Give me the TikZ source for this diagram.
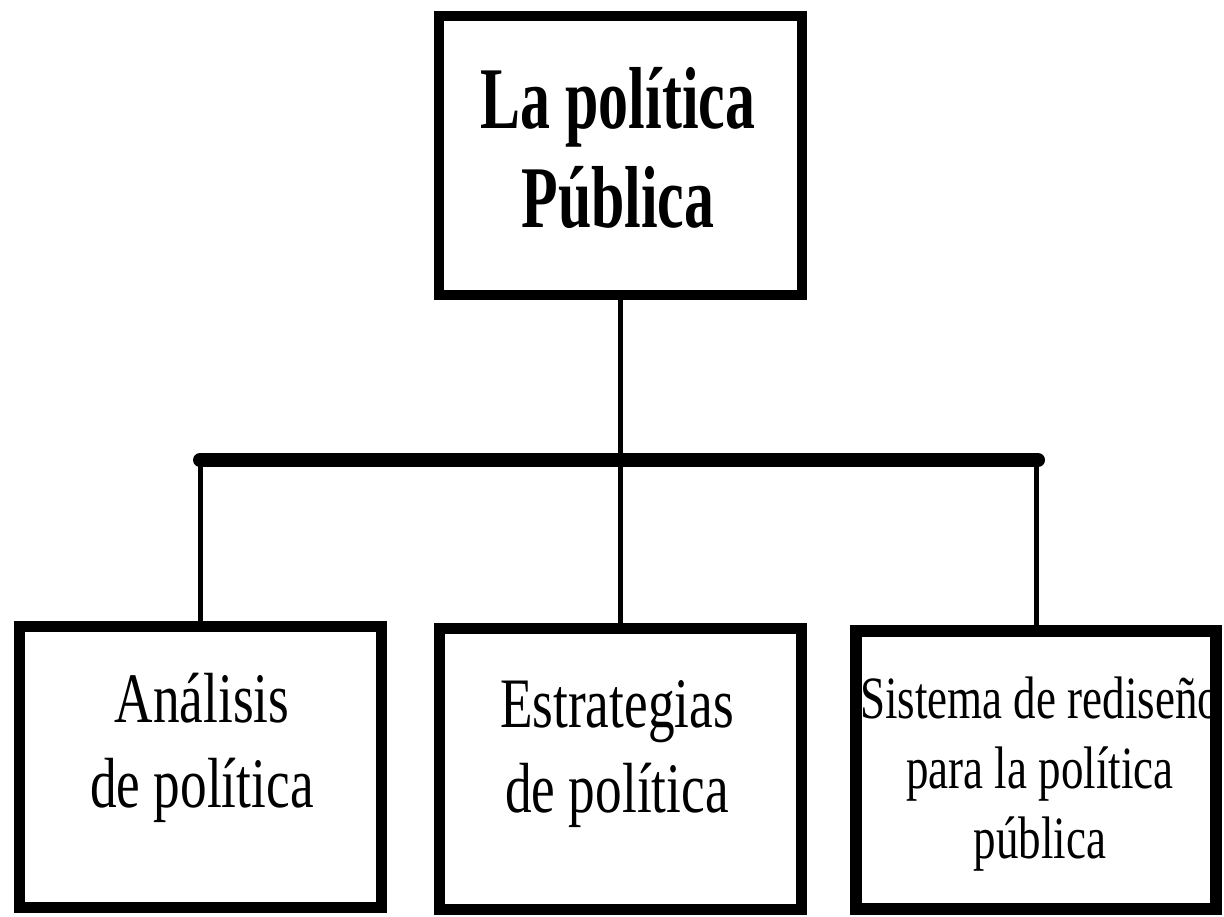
\documentclass[tikz,border=0pt]{standalone}
\usepackage{fontspec}
\newfontfamily\fuente[FakeStretch=0.75]{Liberation Serif}
\newfontfamily\titulo[FakeStretch=0.68]{Liberation Serif}
\tikzset{
  caja/.style={rectangle, draw, line width=11pt, minimum width=362pt, minimum height=281pt, inner sep=0pt},
  texto/.style={align=center, inner sep=0pt, anchor=base},
  linea/.style={line width=5pt},
  barra/.style={line width=14pt, line cap=round}
}
\begin{document}
\begin{tikzpicture}[x=1pt, y=-1pt]
\useasboundingbox (0,0) rectangle (1224,916);

    % cajas
    \node (pp) at (620,155) [caja, line width=10pt, minimum width=363pt, minimum height=279pt] {};
    \node (ana) at (200,767) [caja] {};
    \node (est) at (620,769) [caja] {};
    \node (sis) at (1036,770) [caja, line width=12pt, minimum width=360pt, minimum height=278pt] {};

    % textos
    \node (tpp) at (618,227) [texto, font=\titulo\bfseries\fontsize{88}{99}\selectfont] {La política\\Pública};
    \node (tana) at (202,807) [texto, font=\fuente\fontsize{71}{85}\selectfont] {Análisis\\de política};
    \node (test) at (617,812) [texto, font=\fuente\fontsize{71}{85}\selectfont] {Estrategias\\de política};
    \node (tsis) at (1040,858) [texto, font=\fuente\fontsize{60}{70}\selectfont] {Sistema de rediseño\\para la política\\pública};

    % conectores
    \coordinate (bi) at (200,460);
    \coordinate (bd) at (1038,460);
    \draw[barra] (bi) -- (bd);
    \draw[linea] (pp.south) -- (est.north);
    \draw[linea] (ana.north) -- (ana.north |- bi);
    \draw[linea] (sis.north) -- (sis.north |- bd);

\end{tikzpicture}
\end{document}
